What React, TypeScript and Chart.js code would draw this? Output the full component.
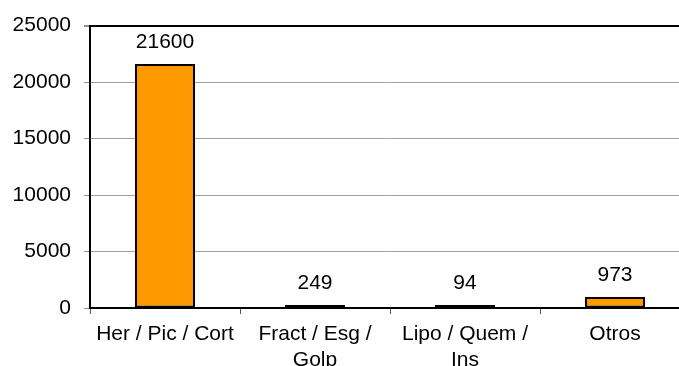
import React, { useEffect, useRef } from "react";
import { Chart, registerables } from "chart.js";

Chart.register(...registerables);

const categories: string[][] = [
  ["Her / Pic / Cort"],
  ["Fract / Esg /", "Golp"],
  ["Lipo / Quem /", "Ins"],
  ["Otros"],
];
const values: number[] = [21600, 249, 94, 973];
const yMin = 0;
const yMax = 25000;
const yStep = 5000;

const FONT = "'Liberation Sans', Arial, sans-serif";
const FS = 21;

const valueLabels = {
  id: "valueLabels",
  afterDatasetsDraw(chart: any) {
    const ctx = chart.ctx;
    const meta = chart.getDatasetMeta(0);
    ctx.save();
    ctx.font = `${FS}px ${FONT}`;
    ctx.fillStyle = "#000";
    ctx.textAlign = "center";
    ctx.textBaseline = "alphabetic";
    meta.data.forEach((bar: any, i: number) => {
      ctx.fillText(String(values[i]), bar.x, bar.y - 16);
    });
    ctx.restore();
  },
};

export default function App() {
  const ref = useRef<HTMLCanvasElement>(null);
  useEffect(() => {
    if (!ref.current) return;
    const chart = new Chart(ref.current, {
      type: "bar",
      data: {
        labels: categories as any,
        datasets: [
          {
            data: values,
            backgroundColor: "#FF9900",
            borderColor: "#000",
            borderWidth: 2,
            borderSkipped: false,
            barPercentage: 0.4,
            categoryPercentage: 1,
            minBarLength: 3,
          },
        ],
      },
      options: {
        responsive: false,
        animation: false,
        devicePixelRatio: 1,
        layout: { padding: { top: 21, right: 10, left: 0, bottom: 0 } },
        plugins: { legend: { display: false }, tooltip: { enabled: false } },
        scales: {
          x: {
            afterFit: (s: any) => {
              s.height = 58;
            },
            grid: {
              drawOnChartArea: false,
              drawTicks: true,
              tickLength: 6,
              tickColor: "#555",
              offset: true,
            },
            border: { display: true, color: "#000", width: 2 },
            ticks: {
              color: "#000",
              font: { family: FONT, size: FS, lineHeight: 1.2 },
              padding: 8,
              maxRotation: 0,
              autoSkip: false,
            },
          },
          y: {
            min: yMin,
            max: yMax,
            afterFit: (s: any) => {
              s.width = 90;
            },
            grid: {
              color: (c: any) =>
                c.tick && c.tick.value === yMax ? "#000" : "#a0a0a0",
              lineWidth: (c: any) =>
                c.tick && c.tick.value === yMax ? 2 : 1,
              tickColor: "#909090",
              tickLength: 6,
              drawTicks: true,
            },
            border: { display: true, color: "#000", width: 2 },
            ticks: {
              stepSize: yStep,
              color: "#000",
              font: { family: FONT, size: FS },
              padding: 13,
              callback: (v: any) => String(v),
            },
          },
        },
      },
      plugins: [valueLabels],
    });
    return () => chart.destroy();
  }, []);
  return (
    <div
      style={{
        position: "fixed",
        left: 0,
        top: 0,
        width: 679,
        height: 366,
        overflow: "hidden",
        background: "#fff",
      }}
    >
      <canvas ref={ref} width={700} height={366} style={{ width: 700, height: 366, display: "block" }} />
    </div>
  );
}
